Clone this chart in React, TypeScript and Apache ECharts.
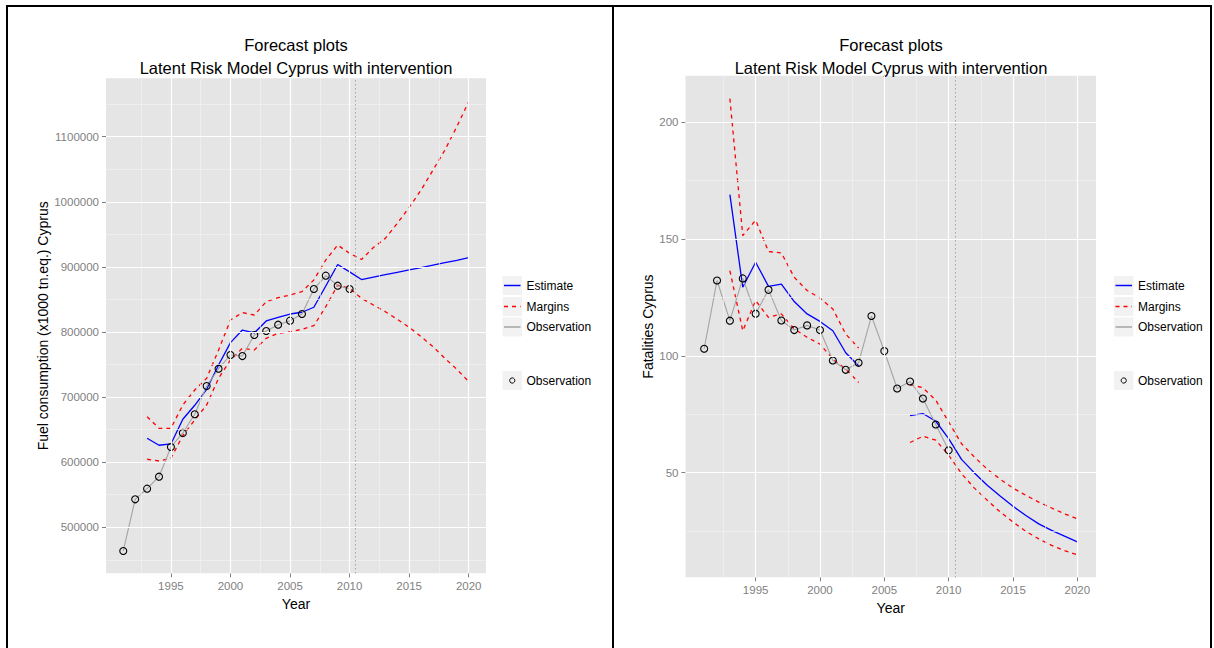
import React, { useEffect, useRef } from 'react';
import * as echarts from 'echarts';

// ---------- data ----------
const obsYears = [1991, 1992, 1993, 1994, 1995, 1996, 1997, 1998, 1999, 2000, 2001, 2002, 2003, 2004, 2005, 2006, 2007, 2008, 2009, 2010];
const fuelYears = [1993, 1994, 1995, 1996, 1997, 1998, 1999, 2000, 2001, 2002, 2003, 2004, 2005, 2006, 2007, 2008, 2009, 2010, 2011, 2012, 2013, 2014, 2015, 2016, 2017, 2018, 2019, 2020];

const fuelObs = [463600, 543000, 559300, 577700, 623300, 644900, 673600, 717000, 743600, 764700, 763000, 795400, 801500, 811200, 817400, 827600, 866000, 886500, 871100, 866000];
const fuelEstimate = [636700, 626000, 628000, 665900, 687400, 712000, 749300, 783600, 803000, 798500, 816900, 822600, 827600, 830300, 838000, 870700, 903700, 892400, 880600, 884300, 888000, 891700, 895300, 899000, 902700, 906400, 910000, 914400];
const fuelUpper = [669900, 652000, 652000, 687900, 710900, 728900, 772300, 818400, 829700, 826100, 846500, 852700, 856800, 862000, 879900, 910600, 933500, 920900, 911400, 929900, 943800, 966800, 991400, 1018000, 1048700, 1079400, 1115400, 1153800];
const fuelLower = [604500, 601800, 606000, 641000, 664800, 687900, 728900, 757000, 775000, 772300, 790300, 798000, 800500, 804100, 809700, 838900, 872000, 867000, 851700, 841400, 831200, 819500, 807200, 792800, 777400, 759600, 742700, 723700];

const fatYears1 = [1993, 1994, 1995, 1996, 1997, 1998, 1999, 2000, 2001, 2002, 2003];
const fatYears2 = [2007, 2008, 2009, 2010, 2011, 2012, 2013, 2014, 2015, 2016, 2017, 2018, 2019, 2020];
const fatObs = [103, 132.2, 115, 133.1, 118, 128.2, 115.1, 111, 113, 111, 98, 94, 97, 117, 102, 86, 89, 81.7, 70.6, 59.6];
const fatEstimate1 = [168.9, 129.3, 140, 129.7, 130.6, 123.2, 117.9, 114.7, 110.7, 101.3, 95.7];
const fatUpper1 = [210, 151.4, 158, 144.6, 144, 133.6, 127.9, 124.7, 120, 109.3, 103.3];
const fatLower1 = [136.4, 110.7, 123.6, 116.4, 117.9, 111.5, 107.9, 105, 98.6, 94.3, 88.6];
const fatEstimate2 = [74.4, 75.3, 72, 64.6, 55.7, 49.9, 44.6, 40, 35.6, 31.7, 28.1, 25.3, 22.9, 20.4];
const fatUpper2 = [87.7, 86.3, 81, 71.7, 62.4, 56.7, 51.5, 47.2, 43.4, 40.3, 37.4, 34.9, 32.4, 30.3];
const fatLower2 = [62.9, 65.6, 63.9, 57.5, 49.6, 43.4, 38.2, 33.2, 28.9, 24.9, 21.7, 18.9, 16.7, 14.9];

const xMajorTicks = [1995, 2000, 2005, 2010, 2015, 2020];
const xMinorTicks = [1992.5, 1997.5, 2002.5, 2007.5, 2012.5, 2017.5];
const fuelMajorTicks = [500000, 600000, 700000, 800000, 900000, 1000000, 1100000];
const fuelMinorTicks = [450000, 550000, 650000, 750000, 850000, 950000, 1050000, 1150000];
const fatMajorTicks = [50, 100, 150, 200];
const fatMinorTicks = [25, 75, 125, 175];
const interventionYear = 2010.5;

const legendLabels = ['Estimate', 'Margins', 'Observation'];
const titleLines = ['Forecast plots', 'Latent Risk Model Cyprus with intervention'];

// ---------- styles ----------
const FONT = '"Liberation Sans", Arial, Helvetica, sans-serif';
const GREY_AX = '#7f7f7f';
const PANEL_BG = '#e5e5e5';
const BLUE = '#0000ff';
const RED = '#ff0000';
const OBS_GREY = '#a3a3a3';

const pairs = (xs: number[], ys: number[]) => xs.map((x, i) => [x, ys[i]]);

function gridSeries(g: number, minorX: number[], minorY: number[], majorX: number[], majorY: number[]) {
  const base = {
    type: 'line',
    xAxisIndex: g,
    yAxisIndex: g,
    data: [],
    silent: true,
  };
  return [
    {
      ...base,
      z: 1,
      markLine: {
        silent: true,
        symbol: ['none', 'none'],
        label: { show: false },
        emphasis: { disabled: true },
        lineStyle: { color: '#f2f2f2', width: 0.7, type: 'solid' },
        data: [...minorX.map((v) => ({ xAxis: v })), ...minorY.map((v) => ({ yAxis: v }))],
      },
    },
    {
      ...base,
      z: 1,
      markLine: {
        silent: true,
        symbol: ['none', 'none'],
        label: { show: false },
        emphasis: { disabled: true },
        lineStyle: { color: '#ffffff', width: 1.2, type: 'solid' },
        data: [...majorX.map((v) => ({ xAxis: v })), ...majorY.map((v) => ({ yAxis: v }))],
      },
    },
    {
      ...base,
      z: 2,
      markLine: {
        silent: true,
        symbol: ['none', 'none'],
        label: { show: false },
        emphasis: { disabled: true },
        lineStyle: { color: '#8a8a8a', width: 1, type: [1, 3] },
        data: [{ xAxis: interventionYear }],
      },
    },
  ];
}

function lineSeries(g: number, data: number[][], color: string, dashed: boolean, width = 1.3) {
  return {
    type: 'line',
    xAxisIndex: g,
    yAxisIndex: g,
    data,
    z: 3,
    symbol: 'none',
    silent: true,
    lineStyle: { color, width, type: dashed ? [4, 4] : 'solid' },
  };
}

function obsSeries(g: number, data: number[][]) {
  return {
    type: 'line',
    xAxisIndex: g,
    yAxisIndex: g,
    data,
    z: 4,
    symbol: 'circle',
    symbolSize: 7,
    showAllSymbol: true,
    silent: true,
    lineStyle: { color: OBS_GREY, width: 1.1 },
    itemStyle: { color: 'rgba(0,0,0,0)', borderColor: '#000', borderWidth: 1.1 },
  };
}

function xAxisOf(g: number) {
  return {
    type: 'value',
    gridIndex: g,
    min: 1989.55,
    max: 2021.45,
    name: 'Year',
    nameLocation: 'middle',
    nameGap: 18,
    nameTextStyle: { color: '#000', fontSize: 14, fontFamily: FONT },
    axisLine: { show: false },
    axisTick: { show: true, length: 4, lineStyle: { color: GREY_AX }, customValues: xMajorTicks },
    axisLabel: { color: GREY_AX, fontSize: 11.5, fontFamily: FONT, margin: 7, customValues: xMajorTicks, formatter: (v: number) => String(v) },
    splitLine: { show: false },
  };
}

function yAxisOf(g: number, min: number, max: number, ticks: number[], name: string, nameGap: number) {
  return {
    type: 'value',
    gridIndex: g,
    min,
    max,
    name,
    nameLocation: 'middle',
    nameGap,
    nameTextStyle: { color: '#000', fontSize: 14, fontFamily: FONT },
    axisLine: { show: false },
    axisTick: { show: true, length: 4, lineStyle: { color: GREY_AX }, customValues: ticks },
    axisLabel: { color: GREY_AX, fontSize: 11.5, fontFamily: FONT, margin: 7, customValues: ticks, formatter: (v: number) => String(v) },
    splitLine: { show: false },
  };
}

function legendGraphics(x0: number) {
  const rows = [285.5, 306.5, 327, 380.5];
  const els: any[] = [];
  rows.forEach((cy) => {
    els.push({ type: 'rect', shape: { x: x0, y: cy - 9.5, width: 19.5, height: 19 }, style: { fill: '#f2f2f2' }, silent: true });
  });
  els.push({ type: 'line', shape: { x1: x0 + 1.5, y1: rows[0], x2: x0 + 18, y2: rows[0] }, style: { stroke: BLUE, lineWidth: 1.5 }, silent: true });
  els.push({ type: 'line', shape: { x1: x0 + 1.5, y1: rows[1], x2: x0 + 18, y2: rows[1] }, style: { stroke: RED, lineWidth: 1.5, lineDash: [4, 4] }, silent: true });
  els.push({ type: 'line', shape: { x1: x0 + 1.5, y1: rows[2], x2: x0 + 18, y2: rows[2] }, style: { stroke: OBS_GREY, lineWidth: 1.5 }, silent: true });
  els.push({ type: 'circle', shape: { cx: x0 + 9.75, cy: rows[3], r: 2.6 }, style: { fill: 'none', stroke: '#000', lineWidth: 1 }, silent: true });
  const texts = [legendLabels[0], legendLabels[1], legendLabels[2], legendLabels[2]];
  texts.forEach((t, i) => {
    els.push({
      type: 'text',
      x: x0 + 24,
      y: rows[i],
      silent: true,
      style: { text: t, fill: '#000', fontSize: 12, fontFamily: FONT, align: 'left', verticalAlign: 'middle' },
    });
  });
  return els;
}

function titleGraphics(cx: number) {
  return titleLines.map((t, i) => ({
    type: 'text',
    x: cx,
    y: 45 + i * 23,
    silent: true,
    style: { text: t, fill: '#000', fontSize: 16.5, fontFamily: FONT, align: 'center', verticalAlign: 'middle' },
  }));
}

export default function App() {
  const ref = useRef<HTMLDivElement>(null);
  useEffect(() => {
    if (!ref.current) return;
    const chart = echarts.init(ref.current, undefined, { renderer: 'svg' });
    const option: any = {
      animation: false,
      backgroundColor: '#ffffff',
      textStyle: { fontFamily: FONT },
      grid: [
        { left: 106, top: 78.3, width: 380, height: 495, show: true, backgroundColor: PANEL_BG, borderWidth: 0 },
        { left: 685.5, top: 75.8, width: 410.5, height: 501.5, show: true, backgroundColor: PANEL_BG, borderWidth: 0 },
      ],
      xAxis: [xAxisOf(0), xAxisOf(1)],
      yAxis: [
        yAxisOf(0, 429300, 1189700, fuelMajorTicks, 'Fuel consumption (x1000 tn.eq.) Cyprus', 56),
        yAxisOf(1, 5.25, 219.75, fatMajorTicks, 'Fatalities Cyprus', 30),
      ],
      series: [
        ...gridSeries(0, xMinorTicks, fuelMinorTicks, xMajorTicks, fuelMajorTicks),
        ...gridSeries(1, xMinorTicks, fatMinorTicks, xMajorTicks, fatMajorTicks),
        lineSeries(0, pairs(fuelYears, fuelUpper), RED, true),
        lineSeries(0, pairs(fuelYears, fuelLower), RED, true),
        lineSeries(0, pairs(fuelYears, fuelEstimate), BLUE, false),
        obsSeries(0, pairs(obsYears, fuelObs)),
        lineSeries(1, pairs(fatYears1, fatUpper1), RED, true),
        lineSeries(1, pairs(fatYears1, fatLower1), RED, true),
        lineSeries(1, pairs(fatYears2, fatUpper2), RED, true),
        lineSeries(1, pairs(fatYears2, fatLower2), RED, true),
        lineSeries(1, pairs(fatYears1, fatEstimate1), BLUE, false),
        lineSeries(1, pairs(fatYears2, fatEstimate2), BLUE, false),
        obsSeries(1, pairs(obsYears, fatObs)),
      ],
      graphic: [
        { type: 'rect', shape: { x: 7, y: 6, width: 606, height: 700 }, style: { fill: 'none', stroke: '#000', lineWidth: 2 }, silent: true, z: 100 },
        { type: 'rect', shape: { x: 613, y: 6, width: 598, height: 700 }, style: { fill: 'none', stroke: '#000', lineWidth: 2 }, silent: true, z: 100 },
        ...titleGraphics(296),
        ...titleGraphics(891),
        ...legendGraphics(502.5),
        ...legendGraphics(1114),
      ],
    };
    chart.setOption(option);
    return () => chart.dispose();
  }, []);
  return <div ref={ref} style={{ position: 'fixed', left: 0, top: 0, width: 1214, height: 648 }} />;
}
